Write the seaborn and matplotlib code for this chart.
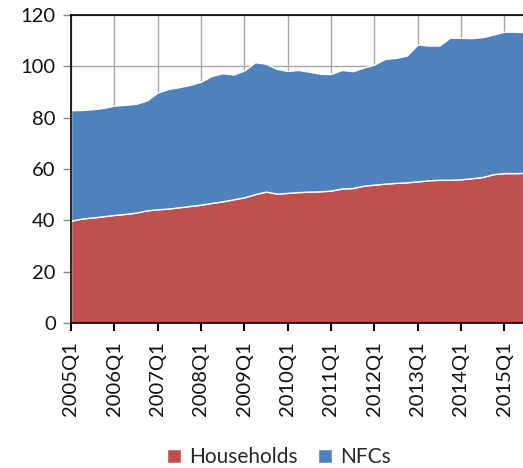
import numpy as np
import pandas as pd
import matplotlib
matplotlib.use("Agg")
import matplotlib.pyplot as plt
import seaborn as sns

# quarterly data, 2005Q1 .. 2015Q3
years = list(range(2005, 2016))
quarters = [f"{y}Q{q}" for y in years for q in range(1, 5)][:43]

households = [39.9, 40.7, 41.1, 41.6, 42.1, 42.5, 43.0, 43.9, 44.3, 44.6,
              45.1, 45.6, 46.1, 46.8, 47.4, 48.2, 49.0, 50.2, 51.2, 50.4,
              50.7, 51.0, 51.2, 51.3, 51.6, 52.4, 52.6, 53.5, 53.9, 54.3,
              54.6, 54.8, 55.2, 55.6, 55.8, 55.8, 56.0, 56.4, 56.9, 58.0,
              58.4, 58.4, 58.5]
total = [82.9, 83.0, 83.3, 83.8, 84.7, 85.0, 85.4, 86.7, 89.8, 91.2,
         91.9, 92.8, 94.0, 96.3, 97.3, 96.8, 98.4, 101.6, 101.0, 99.0,
         98.2, 98.6, 97.9, 97.1, 97.0, 98.6, 98.1, 99.5, 100.7, 102.9,
         103.3, 104.2, 108.5, 108.1, 108.1, 111.2, 111.1, 111.0, 111.4, 112.4,
         113.5, 113.5, 113.3]
nfcs = [t - h for t, h in zip(total, households)]

series_names = ["Households", "NFCs"]
series_colors = ["#C0504D", "#4F81BD"]

df = pd.DataFrame({"quarter": quarters, "Households": households, "NFCs": nfcs})
df["pos"] = np.arange(len(df))

sns.set_theme(style="white")
plt.rcParams["font.family"] = ["Lato", "DejaVu Sans"]

fig = plt.figure(figsize=(5.23, 4.68), dpi=100)
ax = fig.add_axes([71 / 523, 1 - 323 / 468, 455 / 523, 308 / 468])

ax.stackplot(df["pos"], df["Households"], df["NFCs"],
             colors=series_colors, labels=series_names, zorder=2)

ax.set_xlim(0, len(df) - 1)
ax.set_ylim(0, 120)
ax.set_yticks(range(0, 121, 20))
year_pos = df.index[df["quarter"].str.endswith("Q1")]
ax.set_xticks(year_pos)
ax.set_xticklabels(df.loc[year_pos, "quarter"], rotation=90)

ax.grid(True, color="#a6a6a6", linewidth=1.0, zorder=0)
ax.set_axisbelow(True)
for side in ["left", "bottom", "top"]:
    ax.spines[side].set_color("black")
    ax.spines[side].set_linewidth(1.2)
ax.spines["right"].set_visible(False)

ax.tick_params(axis="y", which="both", left=True, length=6, width=1, color="#888888",
               labelsize=14.5, pad=5, labelcolor="#111111")
ax.tick_params(axis="x", which="both", bottom=True, length=6, width=1.5, color="black",
               labelsize=14.5, pad=7, labelcolor="#111111")
ax.set_xlabel("")
ax.set_ylabel("")

fig.legend(loc="center", bbox_to_anchor=(279 / 523, 11 / 468), ncol=2, frameon=False,
           fontsize=15, handlelength=0.65, handleheight=0.65, handletextpad=0.4,
           columnspacing=1.0)

fig.savefig("out.png", dpi=100)
